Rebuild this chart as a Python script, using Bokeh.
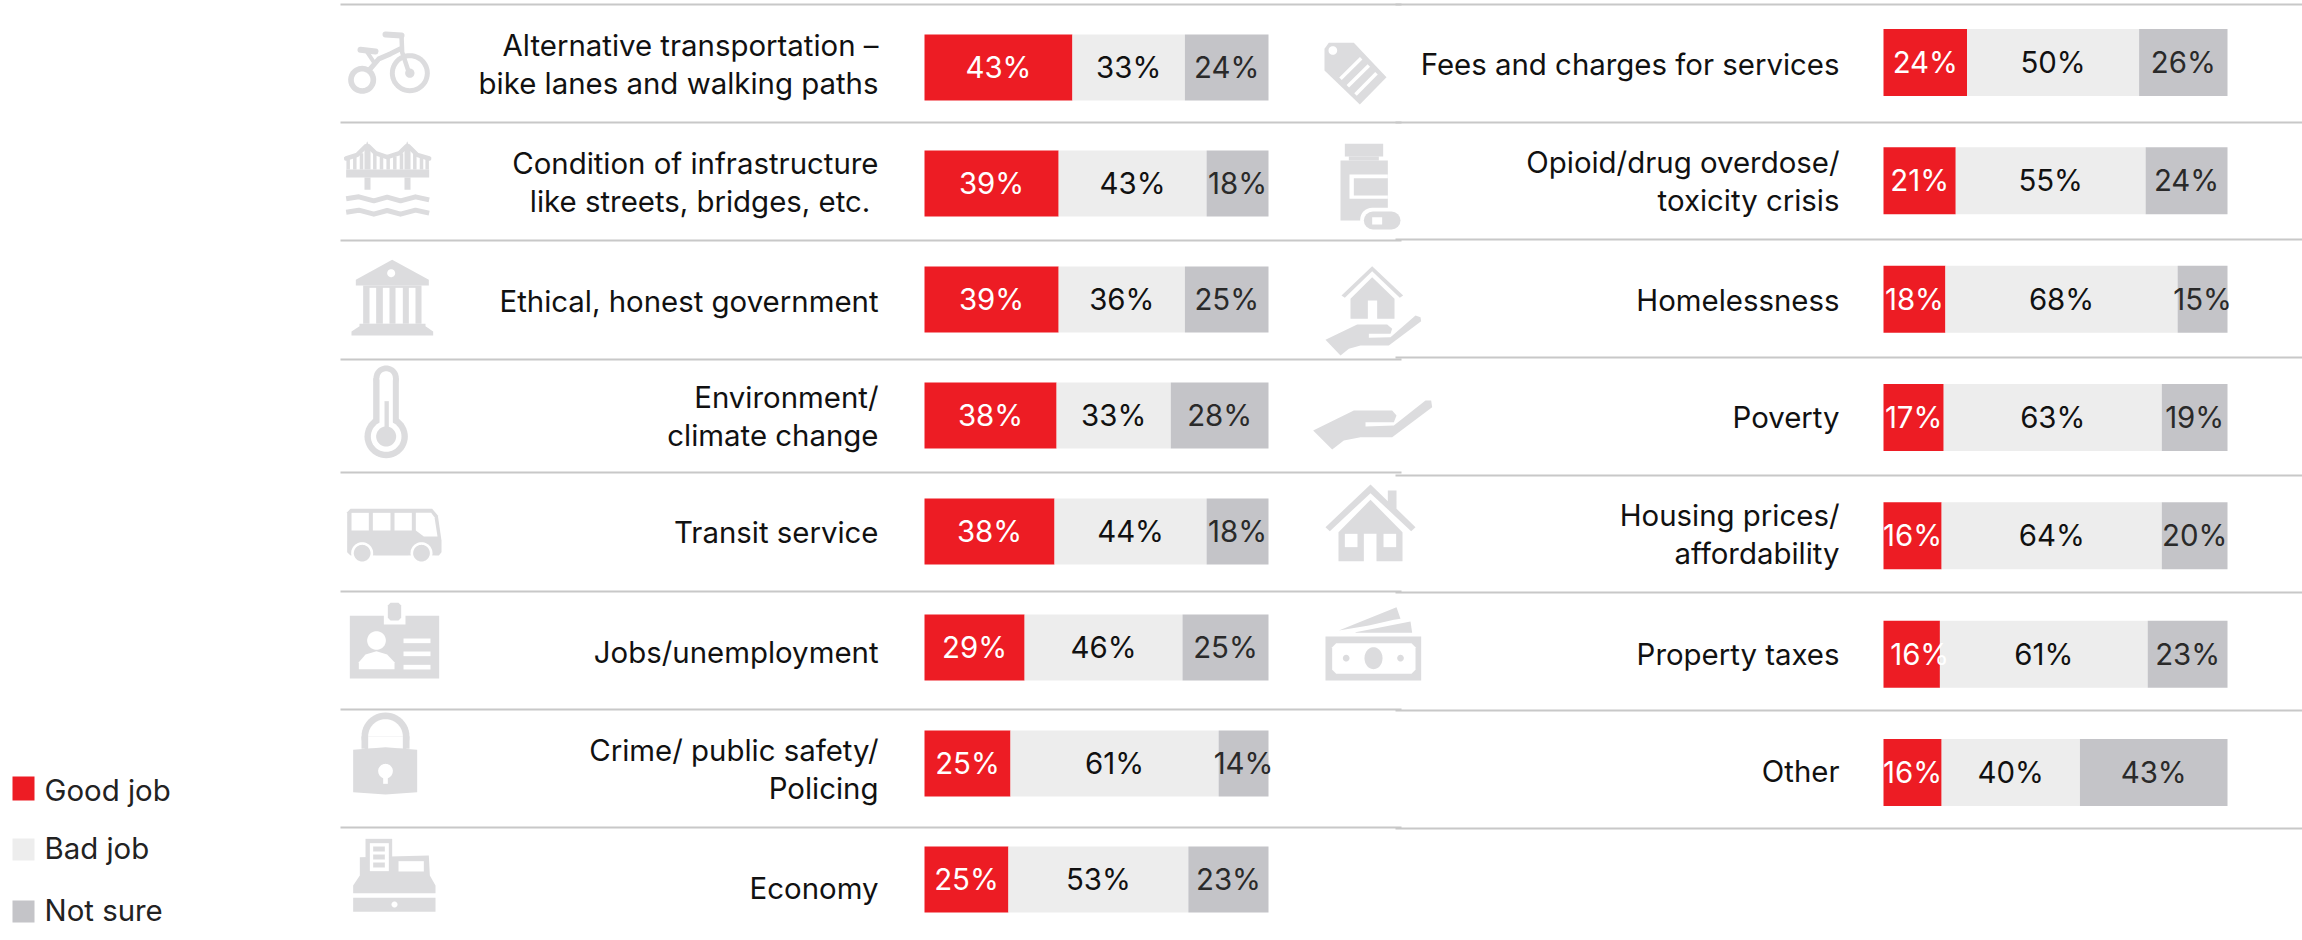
from math import cos, sin, pi
from bokeh.plotting import figure
from bokeh.models import Range1d, ColumnDataSource
from bokeh.core.properties import value
from bokeh.embed import file_html
from bokeh.resources import INLINE

# ---------- data ----------
left_categories = ["Alternative transportation –\nbike lanes and walking paths",
                   "Condition of infrastructure\nlike streets,  bridges, etc.",
                   "Ethical, honest government", "Environment/\nclimate change",
                   "Transit service", "Jobs/unemployment",
                   "Crime/ public safety/\nPolicing", "Economy"]
left_good = [43.0, 39.0, 39.0, 38.4, 37.8, 29.1, 25.0, 24.4]
left_bad = [32.7, 43.0, 36.7, 33.2, 44.2, 45.9, 60.5, 52.3]
left_unsure = [24.3, 18.0, 24.3, 28.4, 18.0, 25.0, 14.5, 23.3]
left_good_labels = [43, 39, 39, 38, 38, 29, 25, 25]
left_bad_labels = [33, 43, 36, 33, 44, 46, 61, 53]
left_unsure_labels = [24, 18, 25, 28, 18, 25, 14, 23]

right_categories = ["Fees and charges for services", "Opioid/drug overdose/\ntoxicity crisis",
                    "Homelessness", "Poverty", "Housing prices/\naffordability",
                    "Property taxes", "Other"]
right_good = [24.3, 21.0, 18.0, 17.5, 16.9, 16.4, 16.9]
right_bad = [50.0, 55.2, 67.5, 63.4, 64.0, 60.4, 40.2]
right_unsure = [25.7, 23.8, 14.5, 19.1, 19.1, 23.2, 42.9]
right_good_labels = [24, 21, 18, 17, 16, 16, 16]
right_bad_labels = [50, 55, 68, 63, 64, 61, 40]
right_unsure_labels = [26, 24, 15, 19, 20, 23, 43]

legend_names = ["Good job", "Bad job", "Not sure"]

# ---------- style / layout ----------
RED, LIGHT, GREY = "#ED1C24", "#EDEDED", "#C4C4C8"
ICON, WHITE, RULE = "#DCDCDE", "#FFFFFF", "#C8C8C8"
FONT = "Inter"
CAT_SIZE = "29.4px"
BAR_SIZE = "29.4px"
PAGE_L, PAGE_R, PAGE_T, PAGE_B = 0, 2302, 0, 940

p = figure(width=PAGE_R - PAGE_L, height=PAGE_B - PAGE_T, output_backend="svg", toolbar_location=None,
           x_range=Range1d(PAGE_L, PAGE_R), y_range=Range1d(PAGE_B, PAGE_T),
           min_border=0, outline_line_color=None, background_fill_color=WHITE, border_fill_color=WHITE)
p.axis.visible = False
p.grid.visible = False

def xr(x0, px):
    return Range1d((PAGE_L - x0) / px, (PAGE_R - x0) / px)
def yr(y0, step):
    return Range1d((PAGE_B - y0) / step, (PAGE_T - y0) / step)

p.extra_x_ranges = {"LX": xr(924, 3.44), "RX": xr(1883, 3.44)}
p.extra_y_ranges = {"LY": yr(67, 116), "RY": yr(62, 118.33)}

# rules
for xa, xb, ys in [(340, 1401, [4, 122, 240, 359, 472, 591, 709, 827]),
                   (1395, PAGE_R, [4, 122, 239, 357, 475, 592, 710, 828])]:
    p.segment(x0=[xa] * len(ys), x1=[xb] * len(ys), y0=ys, y1=ys, line_color=RULE, line_width=2)

def panel(good, bad, unsure, gl, bl, ul, xn, yn, height, nudges):
    rows = list(range(len(good)))
    lefts2 = [g for g in good]
    lefts3 = [g + b for g, b in zip(good, bad)]
    ends = [g + b + u for g, b, u in zip(good, bad, unsure)]
    p.hbar(y=rows, left=[0] * len(rows), right=good, height=height, fill_color=RED, line_color=None, x_range_name=xn, y_range_name=yn)
    p.hbar(y=rows, left=lefts2, right=lefts3, height=height, fill_color=LIGHT, line_color=None, x_range_name=xn, y_range_name=yn)
    p.hbar(y=rows, left=lefts3, right=ends, height=height, fill_color=GREY, line_color=None, x_range_name=xn, y_range_name=yn)
    for xs, labs, col, nd in [([g / 2 for g in good], gl, WHITE, nudges),
                          ([a + b / 2 for a, b in zip(lefts2, bad)], bl, "#111111", None),
                          ([a + b / 2 for a, b in zip(lefts3, unsure)], ul, "#2A2A2A", None)]:
        src = ColumnDataSource(dict(x=xs, y=rows, t=[f"{v}%" for v in labs],
                                    dx=nd if nd else [0] * len(rows)))
        p.text(x="x", y="y", text="t", x_offset="dx", y_offset=0, source=src, text_color=col, text_align="center", text_baseline="middle",
               text_font=value(FONT), text_font_size=BAR_SIZE, x_range_name=xn, y_range_name=yn)

panel(left_good, left_bad, left_unsure, left_good_labels, left_bad_labels, left_unsure_labels, "LX", "LY", 66 / 116, None)
panel(right_good, right_bad, right_unsure, right_good_labels, right_bad_labels, right_unsure_labels, "RX", "RY", 67 / 118.33,
      [0, 0, 0, 0, 0, 8, 0])

# category texts (right aligned, one anchor per line)
def cat_labels(cats, x, line_ys):
    xs, ys, ts = [], [], []
    for c, yl in zip(cats, line_ys):
        for t, y in zip(c.split("\n"), yl):
            xs.append(x); ys.append(y); ts.append(t)
    p.text(x=xs, y=ys, text=ts, text_align="right", text_baseline="middle", text_color="#111111",
           text_font=value(FONT), text_font_size=CAT_SIZE)

cat_labels(left_categories, 878, [[45, 83], [163, 201], [301], [397, 435], [532], [652], [750, 788], [888]])
cat_labels(right_categories, 1839, [[64], [162, 200], [300], [417], [515, 553], [654], [771]])

# legend
p.quad(left=[12, 12, 12], right=[34, 34, 34], top=[776, 838, 900], bottom=[800, 860, 922],
       fill_color=[RED, LIGHT, GREY], line_color=None)
p.text(x=[44, 44, 44], y=[790, 848, 910], text=legend_names, text_baseline="middle", text_color="#222222",
       text_font=value(FONT), text_font_size=CAT_SIZE)

# ---------- pictograms (zoomed-crop coordinates, 3 units = 1 px) ----------
class Ic:
    def __init__(s, ox, oy):
        s.ox, s.oy = ox, oy
    def P(s, pts):
        return [s.ox + a / 3 for a, _ in pts], [s.oy + b / 3 for _, b in pts]
    def poly(s, pts, c=ICON):
        xs, ys = s.P(pts)
        p.patch(xs, ys, fill_color=c, line_color=None)
    def rect(s, a, b, c_, d, c=ICON):
        s.poly([(a, b), (c_, b), (c_, d), (a, d)], c)
    def circ(s, cx, cy, r, c=ICON, ry=None):
        ry = ry or r
        s.poly([(cx + r * cos(i * pi / 24), cy + ry * sin(i * pi / 24)) for i in range(48)], c)
    def line(s, pts, w, c=ICON, cap="round"):
        xs, ys = s.P(pts)
        p.line(xs, ys, line_color=c, line_width=w, line_cap=cap, line_join="round")

# bicycle
i = Ic(340, 20)
i.circ(65, 178, 42); i.circ(65, 178, 25, WHITE)
i.circ(208, 158, 60); i.circ(208, 158, 45, WHITE); i.circ(208, 158, 14)
i.line([(85, 150), (115, 115), (150, 100), (180, 85)], 5)
i.line([(183, 45), (185, 95), (205, 155)], 4.5)
i.line([(135, 42), (183, 45)], 6)
i.line([(60, 88), (105, 93)], 6)
i.line([(80, 95), (100, 125)], 4)
# bridge
i.rect(17, 447, 266, 471)
i.rect(72, 471, 90, 508); i.rect(192, 471, 210, 508)
i.poly([(72, 447), (72, 385), (80, 362), (90, 385), (90, 447)])
i.poly([(192, 447), (192, 385), (200, 362), (210, 385), (210, 447)])
i.line([(17, 414), (50, 403), (75, 378)], 4.5)
i.line([(85, 378), (105, 398), (140, 410), (177, 398), (197, 378)], 4.5)
i.line([(205, 378), (230, 403), (266, 414)], 4.5)
for hx, ht in [(23, 414), (43, 408), (63, 398), (103, 398), (123, 408), (143, 412), (163, 408), (183, 398), (223, 398), (243, 408), (260, 414)]:
    i.line([(hx, ht), (hx, 447)], 3.5, cap="butt")
for dy in (0, 40):
    i.line([(17, 535 + dy), (55, 529 + dy), (100, 541 + dy), (140, 530 + dy), (180, 541 + dy), (225, 529 + dy), (266, 538 + dy)], 5, cap="butt")
# temple
i = Ic(340, 250)
i.poly([(155, 28), (265, 88), (265, 105), (46, 105), (46, 88)])
i.circ(152, 68, 12, WHITE)
i.rect(68, 105, 243, 220)
for a, b in [(87, 107), (127, 147), (165, 187), (205, 225)]:
    i.rect(a, 112, b, 220, WHITE)
i.poly([(57, 220), (255, 220), (255, 227), (278, 243), (278, 255), (33, 255), (33, 243), (57, 227)])
# thermometer
i.rect(98, 383, 175, 558); i.circ(137, 383, 38); i.circ(137, 558, 65)
i.rect(117, 382, 157, 558, WHITE); i.circ(137, 382, 20, WHITE); i.circ(137, 558, 46, WHITE)
i.rect(132, 452, 145, 540); i.circ(137, 558, 30)
# bus
i = Ic(340, 480)
i.poly([(30, 85), (275, 85), (292, 105), (303, 180), (303, 215), (295, 225), (30, 225), (20, 215), (20, 95)])
i.rect(33, 97, 85, 150, WHITE); i.rect(97, 97, 150, 150, WHITE); i.rect(162, 97, 214, 150, WHITE)
i.poly([(226, 97), (272, 97), (282, 110), (291, 168), (250, 168), (226, 150)], WHITE)
for wx in (65, 243):
    i.circ(wx, 218, 33, WHITE); i.rect(wx - 40, 226, wx + 40, 250, WHITE); i.circ(wx, 218, 25)
# badge
i.rect(28, 406, 296, 594)
i.rect(130, 366, 195, 432, WHITE)
i.poly([(142, 375), (150, 367), (174, 367), (182, 375), (182, 412), (174, 420), (150, 420), (142, 412)])
i.circ(108, 480, 28, WHITE)
i.poly([(55, 566), (55, 545), (75, 522), (108, 512), (140, 522), (162, 545), (162, 566)], WHITE)
for a in (474, 513, 553):
    i.rect(189, a, 270, a + 14, WHITE)
# padlock
i = Ic(340, 720)
i.circ(135, 48, 72); i.circ(135, 48, 52, WHITE)
i.rect(63, 48, 207, 85); i.rect(83, 48, 187, 85, WHITE)
i.poly([(38, 88), (135, 80), (230, 88), (230, 215), (135, 222), (38, 215)])
i.circ(135, 152, 22, WHITE); i.rect(128, 165, 142, 190, WHITE)
# cash register
i.poly([(58, 410), (265, 405), (268, 465), (285, 495), (285, 518), (38, 518), (38, 495), (58, 465)])
i.rect(75, 355, 155, 410)
i.rect(88, 368, 145, 452, WHITE)
for a in (378, 402, 426):
    i.rect(98, a, 133, a + 15)
i.rect(174, 422, 250, 453, WHITE)
i.rect(38, 532, 285, 574); i.circ(162, 552, 9, WHITE)
# tag
i = Ic(1310, 20)
i.poly([(42, 85), (55, 67), (130, 67), (228, 170), (148, 252), (42, 150)])
i.circ(67, 90, 13, WHITE)
for a, b, c_, d in [(90, 175, 152, 113), (112, 197, 175, 135), (135, 222, 198, 158)]:
    i.line([(a, b), (c_, d)], 3.5, WHITE, "butt")
# pill bottle
i.rect(103, 370, 218, 408); i.rect(115, 408, 205, 420); i.rect(90, 420, 232, 600)
i.rect(117, 462, 232, 535, WHITE); i.rect(130, 473, 232, 525)
i.line([(185, 598), (245, 598)], 24, WHITE)
i.line([(187, 600), (243, 600)], 18)
i.rect(185, 590, 215, 612, WHITE)
# house in hand
i = Ic(1310, 250)
i.poly([(93, 135), (185, 47), (278, 135), (268, 142), (185, 62), (103, 142)])
i.poly([(120, 205), (120, 145), (185, 80), (252, 145), (252, 205), (200, 205), (200, 150), (172, 150), (172, 205)])
i.poly([(45, 268), (140, 222), (230, 222), (245, 235), (240, 250), (175, 250), (175, 262), (240, 260), (315, 195), (330, 200), (332, 212), (235, 285), (150, 285), (115, 295), (90, 315)])
# open hand
i.poly([(8, 540), (130, 480), (245, 480), (258, 495), (250, 515), (165, 515), (165, 528), (250, 525), (345, 450), (362, 450), (365, 470), (245, 560), (150, 560), (100, 570), (65, 597)])
# house
i = Ic(1310, 470)
i.poly([(45, 170), (180, 42), (232, 92), (232, 60), (258, 60), (258, 115), (315, 170), (302, 182), (180, 68), (58, 182)])
i.poly([(84, 185), (180, 88), (276, 185), (276, 272), (198, 272), (198, 190), (160, 190), (160, 272), (84, 272)])
i.rect(103, 190, 141, 230, WHITE); i.rect(219, 190, 257, 230, WHITE)
# money
i.rect(45, 498, 332, 630)
i.poly([(65, 530), (77, 518), (303, 518), (315, 530), (315, 598), (303, 610), (77, 610), (65, 598)], WHITE)
i.circ(189, 563, 27, ry=33); i.circ(107, 563, 10); i.circ(270, 563, 10)
i.poly([(85, 480), (258, 410), (270, 445), (250, 448), (175, 465)])
i.poly([(135, 485), (300, 453), (305, 487), (135, 487)])

open("out.html", "w").write(file_html(p, INLINE))
